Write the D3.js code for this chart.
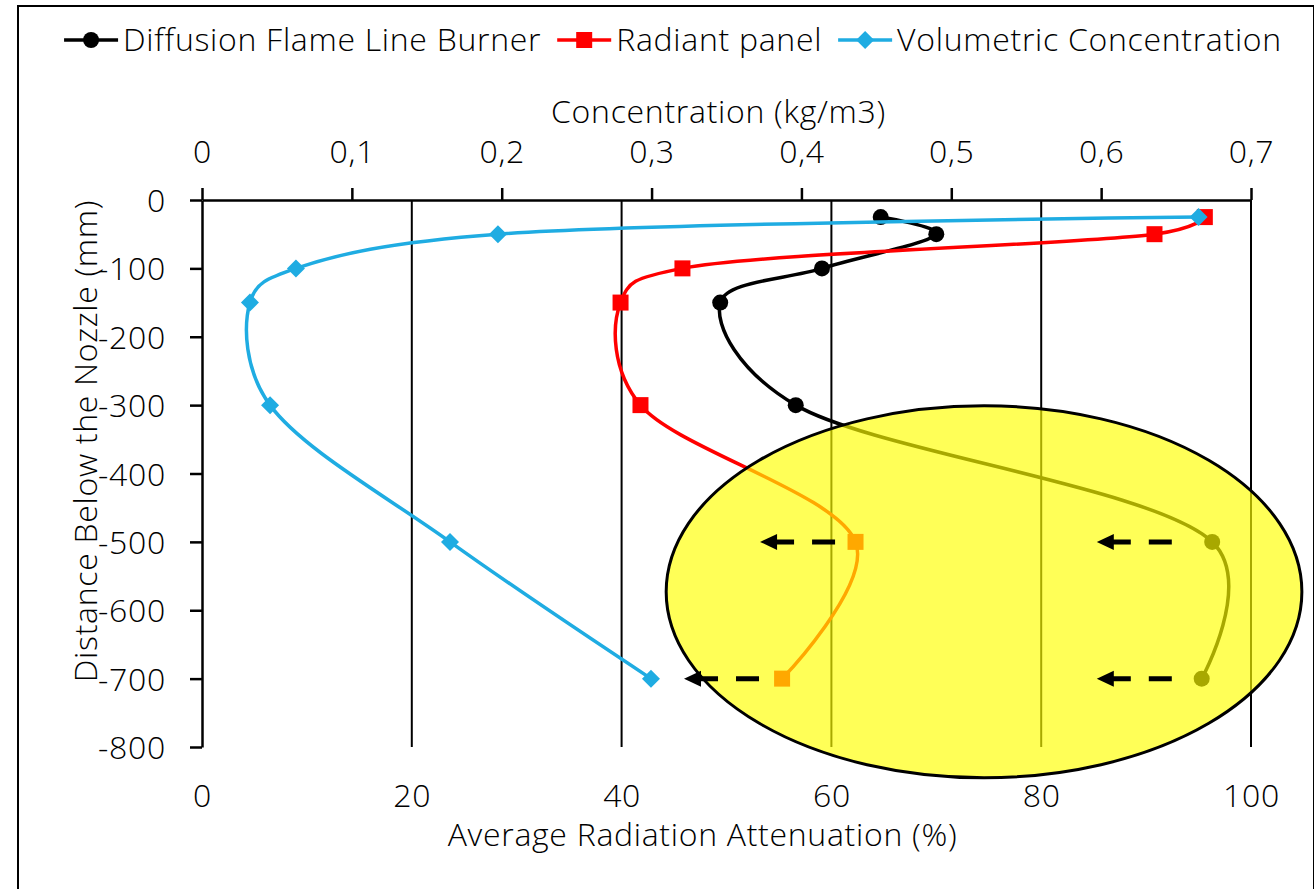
<!DOCTYPE html>
<html>
<head>
<meta charset="utf-8">
<script src="https://cdn.jsdelivr.net/npm/d3@7"></script>
<style>
  html, body { margin: 0; padding: 0; background: #fff; }
  svg { display: block; }
  text { font-family: "Open Sans", "Noto Sans", sans-serif; font-weight: 300; fill: #000; letter-spacing: 0.7px; }
</style>
</head>
<body>
<svg id="chart" width="1314" height="889"></svg>
<script>
// ---------------- Data ----------------
const depths = [-25, -50, -100, -150, -300, -500, -700];           // Distance below nozzle (mm)
const flameAtten = [64.7, 70.0, 59.1, 49.4, 56.6, 96.3, 95.3];      // Diffusion Flame Line Burner (%)
const panelAtten = [95.6, 90.8, 45.8, 39.9, 41.8, 62.3, 55.3];      // Radiant panel (%)
const volConc   = [0.665, 0.1975, 0.0627, 0.032, 0.0454, 0.1655, 0.2996]; // Volumetric Concentration (kg/m3)

const seriesNames = ["Diffusion Flame Line Burner", "Radiant panel", "Volumetric Concentration"];
const seriesColors = ["#000000", "#FF0000", "#1FACE2"];

const bottomTicks = [0, 20, 40, 60, 80, 100];
const topTicks = [0, 0.1, 0.2, 0.3, 0.4, 0.5, 0.6, 0.7];
const yTicks = [0, -100, -200, -300, -400, -500, -600, -700, -800];

// annotation (in data units): highlight ellipse and dashed arrows
const ellipseCenter = [74.55, -573];
const ellipseRadii = [30.3, 272];
const arrowTipsX = [53.2, 85.3, 45.95, 85.3];
const arrowTipsY = [-500, -500, -700, -700];
const arrowLen = 7.15; // % units

// ---------------- Scales ----------------
const svg = d3.select("#chart");
const L = 202, R = 1251, T = 200, B = 747;
const x = d3.scaleLinear().domain([0, 100]).range([L, R]);
const x2 = d3.scaleLinear().domain([0, 0.7]).range([L, R]);
const y = d3.scaleLinear().domain([-800, 0]).range([B, T]);

const FS = 32;

// outer frame
svg.append("rect").attr("x", 18).attr("y", 6).attr("width", 1296).attr("height", 900)
  .attr("fill", "none").attr("stroke", "#000").attr("stroke-width", 2);

// gridlines (vertical, bottom axis)
svg.append("g").selectAll("line").data(bottomTicks.filter(d => d > 0)).join("line")
  .attr("x1", d => x(d)).attr("x2", d => x(d)).attr("y1", T).attr("y2", B)
  .attr("stroke", "#000").attr("stroke-width", 2);

// bottom axis (labels only)
const gB = svg.append("g").attr("transform", `translate(0,${B})`)
  .call(d3.axisBottom(x).tickValues(bottomTicks).tickSize(0).tickFormat(d3.format("d")));
gB.select(".domain").remove();
gB.selectAll("text").attr("y", 60).attr("dy", 0).style("font-size", FS + "px").style("font-family", null).attr("fill", "#000");

// left axis
const gL = svg.append("g").attr("transform", `translate(${L},0)`)
  .call(d3.axisLeft(y).tickValues(yTicks).tickSize(12).tickSizeOuter(0).tickFormat(d3.format("d")));
gL.select(".domain").attr("stroke", "#000").attr("stroke-width", 2.5);
gL.selectAll(".tick line").attr("stroke", "#000").attr("stroke-width", 2.5);
gL.selectAll("text").attr("x", -36).attr("dy", "0.36em").style("font-size", FS + "px").style("font-family", null).attr("fill", "#000")
  .text(d => d3.format("d")(d).replace("−", "-"));

// top axis
const gT = svg.append("g").attr("transform", `translate(0,${T})`)
  .call(d3.axisTop(x2).tickValues(topTicks).tickSize(12).tickSizeOuter(0)
    .tickFormat(d => d === 0 ? "0" : d3.format(".1f")(d).replace(".", ",")));
gT.select(".domain").attr("stroke", "#000").attr("stroke-width", 2.5);
gT.selectAll(".tick line").attr("stroke", "#000").attr("stroke-width", 2.5);
gT.selectAll("text").attr("y", -37).attr("dy", 0).style("font-size", FS + "px").style("font-family", null).attr("fill", "#000");

// axis titles
svg.append("text").attr("x", (L + R) / 2 - 8).attr("y", 123).attr("text-anchor", "middle")
  .style("font-size", FS + "px").text("Concentration (kg/m3)");
svg.append("text").attr("x", (L + R) / 2 - 24).attr("y", 846).attr("text-anchor", "middle")
  .style("font-size", FS + "px").text("Average Radiation Attenuation (%)");
svg.append("text").attr("transform", `translate(97,441) rotate(-90)`).attr("text-anchor", "middle")
  .style("font-size", FS + "px").text("Distance Below the Nozzle (mm)");

// ---------------- Series ----------------
const curve = d3.curveCatmullRom.alpha(0.25);
const flamePts = depths.map((d, i) => [x(flameAtten[i]), y(d)]);
const panelPts = depths.map((d, i) => [x(panelAtten[i]), y(d)]);
const concPts = depths.map((d, i) => [x2(volConc[i]), y(d)]);
const line = d3.line().curve(curve);

const markerPath = {
  circle: "M-8,0A8,8 0 1,0 8,0A8,8 0 1,0 -8,0Z",
  square: "M-8,-8H8V8H-8Z",
  diamond: "M0,-9L9,0L0,9L-9,0Z"
};
const seriesList = [
  { pts: flamePts, color: seriesColors[0], m: markerPath.circle },
  { pts: panelPts, color: seriesColors[1], m: markerPath.square },
  { pts: concPts, color: seriesColors[2], m: markerPath.diamond }
];
seriesList.forEach(s => {
  const g = svg.append("g");
  g.append("path").attr("d", line(s.pts)).attr("fill", "none")
    .attr("stroke", s.color).attr("stroke-width", 3.5).attr("stroke-linejoin", "round");
  g.selectAll("path.m").data(s.pts).join("path").attr("class", "m")
    .attr("transform", d => `translate(${d[0]},${d[1]})`)
    .attr("d", s.m).attr("fill", s.color);
});

// ---------------- Annotation ellipse ----------------
svg.append("ellipse")
  .attr("cx", x(ellipseCenter[0])).attr("cy", y(ellipseCenter[1]))
  .attr("rx", x(ellipseRadii[0]) - x(0)).attr("ry", y(0) - y(ellipseRadii[1]))
  .attr("fill", "#FFFF00").attr("fill-opacity", 0.66)
  .attr("stroke", "#000").attr("stroke-width", 3);

// dashed arrows
const ag = svg.append("g");
arrowTipsX.forEach((tx, i) => {
  const xt = x(tx), yy = y(arrowTipsY[i]), xs = x(tx + arrowLen);
  ag.append("line").attr("x1", xs).attr("x2", xt + 16).attr("y1", yy).attr("y2", yy)
    .attr("stroke", "#000").attr("stroke-width", 5).attr("stroke-dasharray", "23 18");
  ag.append("path").attr("d", `M${xt},${yy} L${xt + 17},${yy - 8} L${xt + 17},${yy + 8} Z`).attr("fill", "#000");
});

// ---------------- Legend ----------------
const leg = svg.append("g");
const legY = 40;
let cx = 0;
seriesNames.forEach((name, i) => {
  const g = leg.append("g").attr("transform", `translate(${cx},0)`);
  g.append("line").attr("x1", 0).attr("x2", 54).attr("y1", legY).attr("y2", legY)
    .attr("stroke", seriesColors[i]).attr("stroke-width", 3.5);
  g.append("path").attr("transform", `translate(27,${legY})`)
    .attr("d", [markerPath.circle, markerPath.square, markerPath.diamond][i]).attr("fill", seriesColors[i]);
  const t = g.append("text").attr("x", 59).attr("y", legY + 11).style("font-size", FS + "px").text(name);
  const w = t.node().getComputedTextLength();
  cx += 59 + w + 16;
});
const legW = cx - 16;
leg.attr("transform", `translate(${673 - legW / 2},0)`);
</script>
</body>
</html>
